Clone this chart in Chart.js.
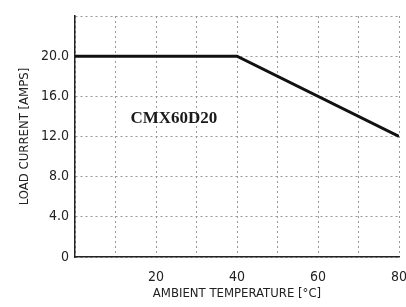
<!DOCTYPE html>
<html>
<head>
<meta charset="utf-8">
<script src="https://cdn.jsdelivr.net/npm/chart.js@4"></script>
<style>
  html, body { margin: 0; padding: 0; background: #fff; }
  #wrap { width: 406px; height: 307px; }
</style>
</head>
<body>
<div id="wrap"><canvas id="deratingChart" width="406" height="307"></canvas></div>
<script>
// derating curve
const temps = [0, 40, 80];
const currents = [20, 20, 12];

const xLabelTicks = [20, 40, 60, 80];
const yLabelTicks = [0, 4, 8, 12, 16, 20];

const partName = 'CMX60D20';
const partNamePos = [24.4, 13.8]; // in data units

const narrow = '"Liberation Sans Narrow", "DejaVu Sans Condensed", Arial, sans-serif';

const labelPlugin = {
    id: 'partLabel',
    afterDatasetsDraw(chart) {
        const ctx = chart.ctx;
        const x = chart.scales.x.getPixelForValue(partNamePos[0]);
        const y = chart.scales.y.getPixelForValue(partNamePos[1]);
        ctx.save();
        ctx.font = 'bold 17px "Liberation Serif", "DejaVu Serif", serif';
        ctx.fillStyle = '#1a1a1a';
        ctx.textAlign = 'center';
        ctx.textBaseline = 'middle';
        ctx.fillText(partName, x, y);
        ctx.restore();
    }
};

function wykres() {
    const ctx = document.getElementById('deratingChart').getContext('2d');
    new Chart(ctx, {
        type: 'line',
        data: {
            datasets: [{
                data: temps.map((t, i) => ({ x: t, y: currents[i] })),
                borderColor: '#111',
                borderWidth: 3,
                pointRadius: 0,
                fill: false,
                tension: 0
            }]
        },
        options: {
            responsive: false,
            animation: false,
            layout: { padding: { left: 0, right: 7, top: 16, bottom: 0 } },
            plugins: { legend: { display: false }, tooltip: { enabled: false } },
            scales: {
                x: {
                    type: 'linear',
                    min: 0,
                    max: 80,
                    afterFit: s => { s.height = 50; s.paddingLeft = 0; s.paddingRight = 0; },
                    ticks: {
                        stepSize: 10,
                        padding: 12,
                        color: '#222',
                        font: { family: narrow, size: 14 },
                        maxRotation: 0,
                        callback: v => xLabelTicks.includes(v) ? String(v) : ''
                    },
                    grid: { color: '#999', drawTicks: false, lineWidth: 1 },
                    border: { color: '#222', width: 1.5, dash: [2, 3] },
                    title: {
                        display: true,
                        text: 'AMBIENT TEMPERATURE [°C]',
                        color: '#222',
                        font: { family: narrow, size: 13 },
                        padding: { top: 0, bottom: 6 }
                    }
                },
                y: {
                    min: 0,
                    max: 24,
                    afterFit: s => { s.width = 75; s.paddingTop = 0; s.paddingBottom = 0; },
                    ticks: {
                        stepSize: 4,
                        padding: 6,
                        color: '#222',
                        font: { family: narrow, size: 14 },
                        callback: v => yLabelTicks.includes(v) ? (v === 0 ? '0' : v.toFixed(1)) : ''
                    },
                    grid: { color: '#999', drawTicks: false, lineWidth: 1 },
                    border: { color: '#222', width: 1.5, dash: [2, 3] },
                    title: {
                        display: true,
                        text: 'LOAD CURRENT [AMPS]',
                        color: '#222',
                        font: { family: narrow, size: 13 },
                        padding: { top: 17, bottom: 0 }
                    }
                }
            }
        },
        plugins: [labelPlugin]
    });
}

wykres();
</script>
</body>
</html>
